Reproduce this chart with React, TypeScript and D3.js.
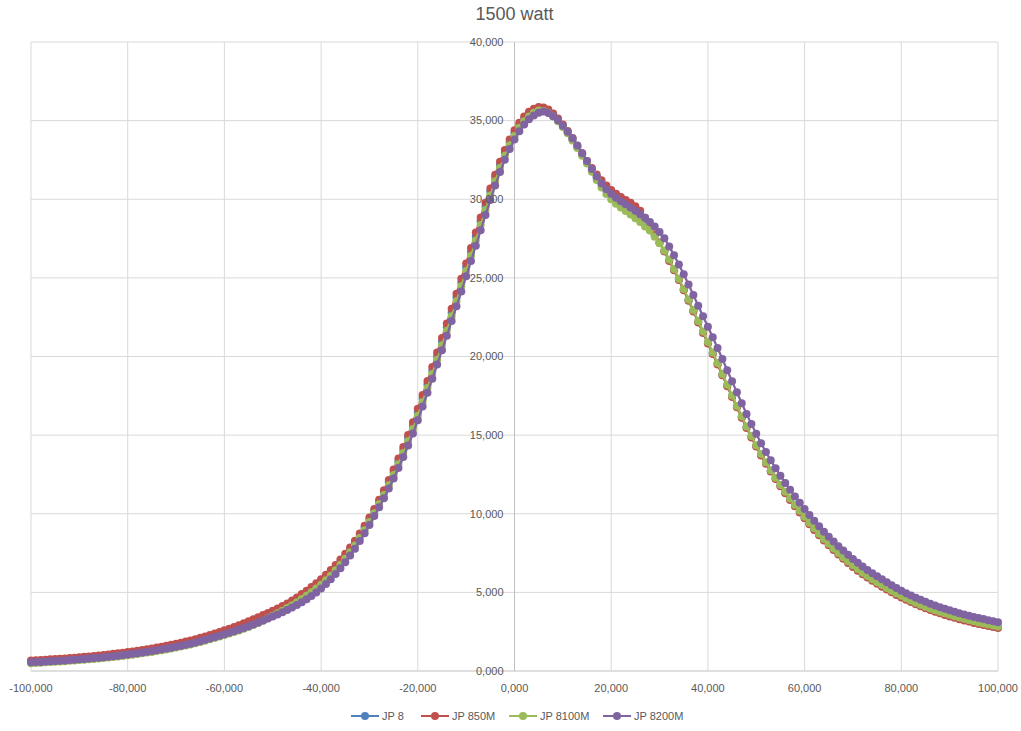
import * as d3 from "d3";

// x sampled every 1,000 from -100,000 to 100,000
const X_VALUES = d3.range(-100000, 100001, 1000);

const SERIES_NAMES = ["JP 8", "JP 850M", "JP 8100M", "JP 8200M"];
const SERIES_COLORS = ["#4F81BD", "#C0504D", "#9BBB59", "#8064A2"];

const JP8 = [
  585, 600, 615, 635, 650, 670, 690, 710, 735, 760,
  785, 810, 840, 865, 895, 925, 955, 990, 1025, 1060,
  1100, 1140, 1185, 1230, 1280, 1325, 1380, 1430, 1490, 1550,
  1610, 1680, 1745, 1820, 1895, 1980, 2060, 2150, 2240, 2340,
  2435, 2535, 2640, 2750, 2860, 2980, 3110, 3245, 3380, 3520,
  3670, 3820, 3980, 4150, 4330, 4525, 4730, 4950, 5175, 5410,
  5665, 5940, 6240, 6570, 6920, 7300, 7705, 8140, 8600, 9095,
  9620, 10170, 10745, 11350, 11980, 12640, 13330, 14050, 14810, 15605,
  16455, 17330, 18220, 19115, 20020, 20940, 21865, 22800, 23750, 24710,
  25675, 26650, 27630, 28600, 29545, 30470, 31350, 32185, 32945, 33620,
  34205, 34705, 35110, 35415, 35630, 35755, 35730, 35600, 35365, 35050,
  34680, 34265, 33815, 33335, 32845, 32360, 31870, 31405, 30980, 30610,
  30295, 30035, 29815, 29610, 29400, 29170, 28910, 28540, 28145, 27700,
  27225, 26710, 26125, 25525, 24905, 24255, 23585, 22905, 22215, 21545,
  20875, 20205, 19535, 18845, 18155, 17475, 16815, 16155, 15505, 14895,
  14315, 13755, 13225, 12725, 12250, 11790, 11350, 10920, 10520, 10135,
  9760, 9380, 9020, 8680, 8350, 8040, 7740, 7460, 7190, 6925,
  6670, 6430, 6205, 5990, 5790, 5600, 5415, 5235, 5060, 4890,
  4730, 4575, 4430, 4295, 4170, 4040, 3925, 3820, 3715, 3615,
  3520, 3430, 3345, 3265, 3190, 3110, 3040, 2975, 2905, 2850,
  2780,
];

const JP850M = [
  670, 685, 700, 720, 740, 760, 780, 800, 825, 850,
  875, 900, 930, 960, 990, 1020, 1055, 1090, 1125, 1165,
  1205, 1245, 1290, 1335, 1385, 1435, 1490, 1545, 1605, 1665,
  1730, 1800, 1870, 1945, 2025, 2110, 2195, 2285, 2380, 2480,
  2585, 2690, 2800, 2915, 3035, 3160, 3290, 3425, 3560, 3695,
  3835, 3975, 4130, 4300, 4480, 4680, 4890, 5110, 5340, 5580,
  5840, 6120, 6420, 6740, 7090, 7460, 7860, 8290, 8750, 9240,
  9760, 10310, 10890, 11500, 12140, 12810, 13510, 14240, 15010, 15820,
  16670, 17550, 18440, 19340, 20250, 21170, 22100, 23040, 23990, 24950,
  25920, 26900, 27880, 28840, 29780, 30690, 31560, 32380, 33130, 33800,
  34380, 34870, 35260, 35560, 35760, 35860, 35840, 35700, 35460, 35140,
  34760, 34340, 33890, 33410, 32920, 32440, 31990, 31580, 31210, 30880,
  30590, 30350, 30150, 29960, 29770, 29550, 29270, 28820, 28280, 27780,
  27250, 26680, 26080, 25480, 24860, 24210, 23540, 22860, 22170, 21500,
  20830, 20160, 19490, 18800, 18110, 17430, 16770, 16110, 15460, 14850,
  14270, 13710, 13180, 12680, 12205, 11745, 11305, 10870, 10470, 10085,
  9710, 9330, 8970, 8630, 8300, 7990, 7690, 7410, 7140, 6875,
  6620, 6380, 6155, 5940, 5740, 5550, 5365, 5185, 5010, 4840,
  4680, 4525, 4380, 4245, 4120, 3990, 3875, 3770, 3665, 3565,
  3470, 3380, 3295, 3215, 3140, 3060, 2990, 2925, 2855, 2800,
  2730,
];

const JP8100M = [
  500, 515, 530, 550, 565, 585, 605, 625, 645, 670,
  695, 720, 745, 770, 800, 830, 860, 890, 925, 960,
  1000, 1040, 1080, 1125, 1170, 1215, 1265, 1320, 1375, 1435,
  1495, 1555, 1620, 1690, 1765, 1845, 1930, 2015, 2105, 2195,
  2285, 2380, 2480, 2580, 2685, 2795, 2930, 3060, 3200, 3350,
  3510, 3670, 3835, 4005, 4185, 4375, 4575, 4790, 5010, 5240,
  5490, 5765, 6065, 6400, 6755, 7135, 7550, 7985, 8455, 8950,
  9480, 10035, 10600, 11195, 11815, 12470, 13150, 13860, 14610, 15390,
  16240, 17110, 17995, 18890, 19795, 20710, 21630, 22565, 23510, 24465,
  25430, 26400, 27380, 28355, 29310, 30245, 31145, 31990, 32760, 33440,
  34030, 34540, 34955, 35270, 35495, 35650, 35620, 35500, 35270, 34960,
  34600, 34190, 33740, 33260, 32770, 32280, 31750, 31230, 30750, 30340,
  30000, 29720, 29480, 29260, 29030, 28790, 28550, 28260, 28010, 27620,
  27200, 26740, 26170, 25570, 24950, 24300, 23630, 22950, 22260, 21590,
  20920, 20250, 19580, 18890, 18200, 17520, 16860, 16200, 15550, 14940,
  14360, 13800, 13270, 12770, 12295, 11835, 11395, 10970, 10570, 10185,
  9810, 9430, 9070, 8730, 8400, 8090, 7790, 7510, 7240, 6975,
  6720, 6480, 6255, 6040, 5840, 5650, 5465, 5285, 5110, 4940,
  4780, 4625, 4480, 4345, 4220, 4090, 3975, 3870, 3765, 3665,
  3570, 3480, 3395, 3315, 3240, 3160, 3090, 3025, 2955, 2900,
  2830,
];

const JP8200M = [
  550, 565, 580, 600, 615, 635, 655, 675, 695, 720,
  745, 770, 795, 820, 850, 880, 910, 940, 975, 1010,
  1050, 1090, 1130, 1175, 1220, 1265, 1315, 1370, 1425, 1485,
  1545, 1605, 1670, 1740, 1815, 1895, 1980, 2065, 2155, 2245,
  2335, 2430, 2530, 2630, 2735, 2845, 2960, 3080, 3205, 3335,
  3470, 3600, 3735, 3880, 4035, 4200, 4375, 4565, 4770, 4995,
  5250, 5530, 5830, 6170, 6530, 6920, 7340, 7780, 8260, 8760,
  9290, 9850, 10410, 10990, 11600, 12240, 12910, 13610, 14340, 15100,
  15950, 16820, 17700, 18590, 19490, 20400, 21320, 22250, 23190, 24140,
  25100, 26070, 27050, 28030, 29000, 29950, 30870, 31730, 32510, 33200,
  33800, 34320, 34750, 35080, 35320, 35500, 35580, 35480, 35280, 35020,
  34680, 34290, 33880, 33420, 32930, 32430, 31930, 31450, 31000, 30640,
  30350, 30100, 29880, 29680, 29480, 29270, 29050, 28820, 28560, 28260,
  27920, 27520, 27000, 26440, 25850, 25230, 24580, 23910, 23230, 22560,
  21890, 21220, 20540, 19840, 19130, 18420, 17720, 17030, 16350, 15700,
  15080, 14490, 13930, 13400, 12900, 12420, 11960, 11520, 11100, 10700,
  10310, 9920, 9550, 9200, 8860, 8540, 8230, 7940, 7660, 7390,
  7130, 6880, 6650, 6430, 6220, 6020, 5830, 5640, 5460, 5280,
  5110, 4950, 4800, 4660, 4530, 4400, 4280, 4170, 4060, 3960,
  3860, 3770, 3680, 3600, 3520, 3440, 3370, 3300, 3230, 3170,
  3100,
];

const X_TICKS = [-100000, -80000, -60000, -40000, -20000, 0, 20000, 40000, 60000, 80000, 100000];
const X_TICK_LABELS = ["-100,000", "-80,000", "-60,000", "-40,000", "-20,000", "0,000", "20,000", "40,000", "60,000", "80,000", "100,000"];
const Y_TICKS = [0, 5000, 10000, 15000, 20000, 25000, 30000, 35000, 40000];
const Y_TICK_LABELS = ["0,000", "5,000", "10,000", "15,000", "20,000", "25,000", "30,000", "35,000", "40,000"];

const TITLE = "1500 watt";

const WIDTH = 1021;
const HEIGHT = 731;
const margin = { top: 42, right: 23, bottom: 60, left: 31 };
const FONT = "'Liberation Sans', Arial, sans-serif";
const TEXT_COLOR = "#595959";

export default function App() {
  const series = [JP8, JP850M, JP8100M, JP8200M];

  const xScale = d3
    .scaleLinear()
    .domain([-100000, 100000])
    .range([margin.left, WIDTH - margin.right]);
  const yScale = d3
    .scaleLinear()
    .domain([0, 40000])
    .range([HEIGHT - margin.bottom, margin.top]);

  const line = d3
    .line<number>()
    .x((_, i) => xScale(X_VALUES[i]))
    .y((d) => yScale(d));

  // legend layout, centred under the plot
  const textW = SERIES_NAMES.map((n) => n.length * 6);
  const itemW = textW.map((w, i) => 31 + w + (i < textW.length - 1 ? 15 : 0));
  const total = d3.sum(itemW);
  const legendStart = (xScale(-100000) + xScale(100000)) / 2 - total / 2 + 2;
  const legendX = itemW.map((_, i) => legendStart + d3.sum(itemW.slice(0, i)));
  const legendY = 716;

  return (
    <svg
      width={WIDTH}
      height={HEIGHT}
      style={{ position: "absolute", left: 0, top: 0, background: "#fff" }}
      fontFamily={FONT}
    >
      <rect width={WIDTH} height={HEIGHT} fill="#fff" />
      <text x={WIDTH / 2 + 4} y={20} textAnchor="middle" fontSize={18} fill={TEXT_COLOR}>
        {TITLE}
      </text>

      {/* grid */}
      <g>
        {Y_TICKS.map((t) => (
          <line
            key={"gy" + t}
            x1={xScale(-100000)}
            x2={xScale(100000)}
            y1={yScale(t)}
            y2={yScale(t)}
            stroke={t === 0 ? "#bfbfbf" : "#d9d9d9"}
            strokeWidth={1}
          />
        ))}
        {X_TICKS.map((t) => (
          <line
            key={"gx" + t}
            x1={xScale(t)}
            x2={xScale(t)}
            y1={yScale(0)}
            y2={yScale(40000)}
            stroke={t === 0 ? "#bfbfbf" : "#d9d9d9"}
            strokeWidth={1}
          />
        ))}
      </g>

      {/* series */}
      {series.map((vals, si) => (
        <g key={SERIES_NAMES[si]}>
          <path d={line(vals) ?? ""} fill="none" stroke={SERIES_COLORS[si]} strokeWidth={2.25} />
          {vals.map((v, i) => (
            <circle key={i} cx={xScale(X_VALUES[i])} cy={yScale(v)} r={4} fill={SERIES_COLORS[si]} />
          ))}
        </g>
      ))}

      {/* y labels beside the zero axis */}
      {Y_TICKS.map((t, i) => (
        <text
          key={"ly" + t}
          x={xScale(0) - 11}
          y={yScale(t)}
          dy="0.35em"
          textAnchor="end"
          fontSize={11}
          fill={TEXT_COLOR}
        >
          {Y_TICK_LABELS[i]}
        </text>
      ))}

      {/* x labels */}
      {X_TICKS.map((t, i) => (
        <text
          key={"lx" + t}
          x={xScale(t)}
          y={yScale(0) + 17}
          dy="0.35em"
          textAnchor="middle"
          fontSize={11}
          fill={TEXT_COLOR}
        >
          {X_TICK_LABELS[i]}
        </text>
      ))}

      {/* legend */}
      {SERIES_NAMES.map((name, i) => (
        <g key={"lg" + name} transform={`translate(${legendX[i]},${legendY})`}>
          <line x1={0} x2={28} y1={0} y2={0} stroke={SERIES_COLORS[i]} strokeWidth={2} />
          <circle cx={14} cy={0} r={4} fill={SERIES_COLORS[i]} />
          <text x={31} y={0} dy="0.35em" fontSize={11} fill={TEXT_COLOR}>
            {name}
          </text>
        </g>
      ))}
    </svg>
  );
}
